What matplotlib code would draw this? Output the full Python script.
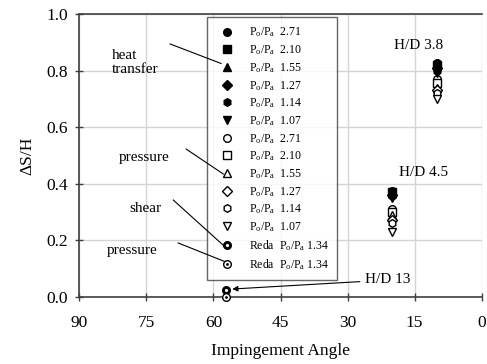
import numpy as np
import matplotlib
matplotlib.use("Agg")
import matplotlib.pyplot as plt
from matplotlib.lines import Line2D
from matplotlib.legend_handler import HandlerTuple

plt.rcParams['font.family'] = ['Liberation Serif', 'DejaVu Serif']
plt.rcParams['mathtext.fontset'] = 'custom'
plt.rcParams['mathtext.rm'] = 'Liberation Serif'
plt.rcParams['mathtext.it'] = 'Liberation Serif:italic'

# dados
razoes = ['2.71', '2.10', '1.55', '1.27', '1.14', '1.07']
marcadores = ['o', 's', '^', 'D', 'h', 'v']

angulos_hd = [10, 20]            # H/D 3.8 , H/D 4.5
calor_38 = [0.825, 0.82, 0.815, 0.81, 0.80, 0.79]
calor_45 = [0.375, 0.37, 0.365, 0.36, 0.355, 0.35]
pressao_38 = [0.77, 0.755, 0.74, 0.73, 0.72, 0.70]
pressao_45 = [0.31, 0.30, 0.29, 0.27, 0.26, 0.23]

reda_angulo = 57.2
reda_cisalhamento = 0.025
reda_pressao = 0.0
reda_razao = '1.34'

fig = plt.figure(figsize=(4.87, 3.64), dpi=100)
ax = fig.add_axes([0.163, 0.185, 0.826, 0.7765])

ax.set_xlim(90, 0)
ax.set_ylim(0, 1.0)
ax.set_xticks(np.arange(90, -1, -15))
ax.set_yticks(np.arange(0, 1.01, 0.2))
ax.yaxis.set_major_formatter(plt.FormatStrFormatter('%.1f'))
ax.grid(True, color='#d4d4d4', linewidth=1.0)
ax.set_axisbelow(True)
ax.spines['right'].set_visible(False)
for s in ['left', 'bottom', 'top']:
    ax.spines[s].set_color('#404040')
    ax.spines[s].set_linewidth(1.2)
ax.tick_params(direction='inout', length=6, width=1, color='#404040', labelsize=12.5)
ax.tick_params(axis='x', pad=10)
ax.tick_params(axis='y', pad=5)

handles = []
labels = []
ms = 5.5
for i, m in enumerate(marcadores):
    ax.plot(angulos_hd, [calor_38[i], calor_45[i]], linestyle='none', marker=m,
            markersize=ms, color='black', markerfacecolor='black', zorder=4)
    handles.append(Line2D([], [], linestyle='none', marker=m, markersize=ms,
                          color='black', markerfacecolor='black'))
    labels.append(r'P$_\mathrm{o}$/P$_\mathrm{a}$  ' + razoes[i])
for i, m in enumerate(marcadores):
    ax.plot(angulos_hd, [pressao_38[i], pressao_45[i]], linestyle='none', marker=m,
            markersize=ms, color='black', markerfacecolor='white', markeredgewidth=1, zorder=3)
    handles.append(Line2D([], [], linestyle='none', marker=m, markersize=ms,
                          color='black', markerfacecolor='white', markeredgewidth=1))
    labels.append(r'P$_\mathrm{o}$/P$_\mathrm{a}$  ' + razoes[i])

# Reda
ax.plot([reda_angulo], [reda_cisalhamento], linestyle='none', marker='o', markersize=ms,
        color='black', markerfacecolor='black', zorder=5, clip_on=False)
ax.plot([reda_angulo], [reda_cisalhamento], linestyle='none', marker='.', markersize=2.5,
        color='white', zorder=6, clip_on=False)
ax.plot([reda_angulo], [reda_pressao], linestyle='none', marker='o', markersize=ms,
        color='black', markerfacecolor='white', markeredgewidth=1, zorder=5, clip_on=False)
ax.plot([reda_angulo], [reda_pressao], linestyle='none', marker='.', markersize=2,
        color='black', zorder=6, clip_on=False)

h1 = (Line2D([], [], linestyle='none', marker='o', markersize=ms, color='black'),
      Line2D([], [], linestyle='none', marker='.', markersize=2.5, color='white'))
h2 = (Line2D([], [], linestyle='none', marker='o', markersize=ms, color='black',
             markerfacecolor='white', markeredgewidth=1),
      Line2D([], [], linestyle='none', marker='.', markersize=2, color='black'))
handles += [h1, h2]
labels += [r'Reda  P$_\mathrm{o}$/P$_\mathrm{a}$ ' + reda_razao] * 2

leg = ax.legend(handles, labels, loc='upper left', bbox_to_anchor=(0.318, 0.988),
                fontsize=8.5, frameon=True, fancybox=False, borderpad=0.7,
                labelspacing=0.33, handletextpad=0.8, handlelength=2.0,
                borderaxespad=0,
                handler_map={tuple: HandlerTuple(ndivide=1, pad=0)})
leg.get_frame().set_edgecolor('#404040')
leg.get_frame().set_linewidth(1.0)
leg.set_zorder(10)

# textos e linhas de chamada
ax.text(82.7, 0.827, 'heat\ntransfer', fontsize=11, ha='left', va='center', linespacing=1.1)
ax.plot([69.7, 58.3], [0.894, 0.825], color='black', linewidth=0.8, zorder=11, clip_on=False)
ax.text(75.5, 0.494, 'pressure', fontsize=11, ha='center', va='center')
ax.plot([66.1, 57.8], [0.522, 0.434], color='black', linewidth=0.8, zorder=11, clip_on=False)
ax.text(75.3, 0.313, 'shear', fontsize=11, ha='center', va='center')
ax.plot([69.0, 57.6], [0.342, 0.179], color='black', linewidth=0.8, zorder=11, clip_on=False)
ax.text(78.2, 0.165, 'pressure', fontsize=11, ha='center', va='center')
ax.plot([67.9, 57.6], [0.19, 0.125], color='black', linewidth=0.8, zorder=11, clip_on=False)

ax.text(14.2, 0.89, 'H/D 3.8', fontsize=11, ha='center', va='center')
ax.text(13.0, 0.44, 'H/D 4.5', fontsize=11, ha='center', va='center')
ax.annotate('H/D 13', xy=(55.8, 0.027), xytext=(26.0, 0.059), fontsize=11,
            ha='left', va='center',
            arrowprops=dict(arrowstyle='-|>', color='black', lw=0.8, mutation_scale=8,
                            shrinkA=2, shrinkB=0))

ax.set_xlabel('Impingement Angle', fontsize=12.5, labelpad=9)
ax.set_ylabel('ΔS/H', fontsize=12.5, labelpad=8)

fig.savefig('out.png', dpi=100)
